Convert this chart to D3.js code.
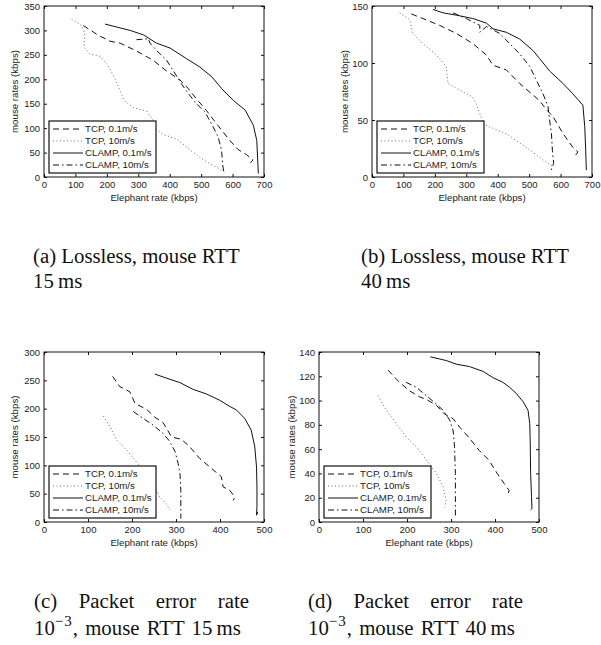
<!DOCTYPE html>
<html>
<head>
<meta charset="utf-8">
<script src="https://cdn.jsdelivr.net/npm/d3@7"></script>
<style>
body { margin: 0; background: #fff; }
svg text { font-family: Arial, "Liberation Sans", sans-serif; fill: #222; }
.cap { font-family: "Liberation Serif", "Times New Roman", serif; font-size: 20.8px; fill: #111; }
</style>
</head>
<body>
<div id="chart"></div>
<script>
const seriesNames = ["TCP, 0.1m/s", "TCP, 10m/s", "CLAMP, 0.1m/s", "CLAMP, 10m/s"];

// (a) lossless, mouse RTT 15 ms : [elephant kbps, mouse kbps]
const tcpFastA = [[125,310],[173,290],[210,278],[242,274],[294,258],[347,239],[390,217],[432,199],[459,181],[485,160],[517,136],[549,109],[591,75],[618,56],[644,46],[665,35],[657,29]];
const tcpSlowA = [[88,323],[120,310],[130,293],[127,266],[146,252],[178,247],[204,228],[226,201],[242,177],[254,157],[284,142],[326,135],[345,119],[353,99],[379,87],[422,78],[464,56],[506,35],[549,20],[580,8]];
const clampFastA = [[194,313],[274,300],[316,291],[358,274],[401,264],[454,242],[496,225],[534,205],[565,181],[602,157],[640,137],[666,106],[677,75],[682,7]];
const clampSlowA = [[294,281],[332,283],[337,274],[358,259],[390,239],[411,218],[437,191],[459,171],[485,150],[512,133],[533,109],[554,82],[565,55],[568,27],[572,10]];

// (b) lossless, mouse RTT 40 ms
const tcpFastB = [[125,143],[162,139],[215,133],[268,126],[321,117],[364,107],[385,98],[427,94],[470,82],[512,72],[533,67],[555,59],[576,53],[608,38],[639,26],[655,22],[645,18]];
const tcpSlowB = [[88,144],[120,138],[130,126],[162,117],[205,107],[236,97],[242,82],[268,78],[321,70],[332,64],[343,56],[353,47],[374,44],[427,38],[491,26],[544,15],[576,9]];
const clampFastB = [[194,147],[226,144],[268,142],[321,139],[364,135],[385,130],[427,127],[470,121],[512,111],[533,104],[565,93],[608,82],[639,73],[671,63],[677,44],[680,23],[682,6]];
const clampSlowB = [[258,144],[300,139],[343,133],[343,127],[364,132],[406,126],[438,117],[470,108],[502,97],[523,85],[544,73],[560,62],[565,50],[571,38],[574,23],[578,12],[570,6]];

// (c) packet error rate 1e-3, mouse RTT 15 ms
const tcpFastC = [[156,257],[172,239],[195,230],[207,209],[233,199],[252,185],[271,175],[290,150],[312,146],[331,133],[354,112],[377,97],[403,80],[407,62],[422,56],[434,44],[430,38]];
const tcpSlowC = [[135,187],[150,168],[165,145],[188,127],[210,106],[233,86],[248,68],[263,44],[278,32],[286,21]];
const clampFastC = [[252,261],[278,254],[309,246],[339,234],[369,226],[399,215],[422,204],[437,198],[456,183],[471,162],[479,133],[483,97],[484,62],[484,27],[483,12],[486,18]];
const clampSlowC = [[203,195],[225,183],[248,171],[271,156],[286,142],[298,124],[305,103],[309,86],[311,56],[311,27],[311,6]];

// (d) packet error rate 1e-3, mouse RTT 40 ms
const tcpFastD = [[157,125],[183,115],[206,108],[229,103],[244,101],[267,96],[285,89],[305,85],[320,78],[342,69],[364,59],[386,51],[405,40],[420,32],[432,26],[430,23]];
const tcpSlowD = [[134,104],[153,92],[176,81],[198,70],[221,62],[244,51],[267,40],[282,29],[289,18],[286,12]];
const clampFastD = [[253,136],[289,133],[312,130],[342,128],[373,124],[395,119],[418,115],[433,111],[448,106],[464,99],[475,92],[479,81],[480,67],[481,40],[483,21],[484,11],[481,10]];
const clampSlowD = [[198,115],[221,111],[244,104],[267,97],[282,92],[297,84],[305,75],[308,62],[310,40],[310,21],[310,5]];

const xTicksWide = [0, 100, 200, 300, 400, 500, 600, 700];
const xTicksNarrow = [0, 100, 200, 300, 400, 500];
const yTicksA = [0, 50, 100, 150, 200, 250, 300, 350];
const yTicksB = [0, 50, 100, 150];
const yTicksC = [0, 50, 100, 150, 200, 250, 300];
const yTicksD = [0, 20, 40, 60, 80, 100, 120, 140];

const styles = [
  { dash: "6,4", color: "#111", w: 1 },
  { dash: "1,2.5", color: "#666", w: 1 },
  { dash: null, color: "#111", w: 1 },
  { dash: "6,3,1.5,3", color: "#111", w: 1 }
];

const panels = [
  { left: 44, top: 6, w: 220, h: 171, xTicks: xTicksWide, yTicks: yTicksA, ylabX: 15,
    data: [tcpFastA, tcpSlowA, clampFastA, clampSlowA],
    cap: { x: 33, y: 263, lines: ["(a) Lossless, mouse RTT", "15\u2009ms"], justify: false } },
  { left: 372, top: 6, w: 220, h: 171, xTicks: xTicksWide, yTicks: yTicksB, ylabX: 345,
    data: [tcpFastB, tcpSlowB, clampFastB, clampSlowB],
    cap: { x: 361, y: 263, lines: ["(b) Lossless, mouse RTT", "40\u2009ms"], justify: false } },
  { left: 44, top: 352, w: 220, h: 170, xTicks: xTicksNarrow, yTicks: yTicksC, ylabX: 15,
    data: [tcpFastC, tcpSlowC, clampFastC, clampSlowC],
    cap: { x: 34, y: 607.5, lines: ["(c) Packet error rate", "15\u2009ms"], justify: true } },
  { left: 319, top: 352, w: 220, h: 170, xTicks: xTicksNarrow, yTicks: yTicksD, ylabX: 292,
    data: [tcpFastD, tcpSlowD, clampFastD, clampSlowD],
    cap: { x: 308, y: 607.5, lines: ["(d) Packet error rate", "40\u2009ms"], justify: true } }
];

const svg = d3.select("#chart").append("svg")
  .attr("width", 601)
  .attr("height", 645);

panels.forEach(p => {
  const x = d3.scaleLinear()
    .domain([0, d3.max(p.xTicks)])
    .range([0, p.w]);
  const y = d3.scaleLinear()
    .domain([0, d3.max(p.yTicks)])
    .range([p.h, 0]);

  const g = svg.append("g")
    .attr("transform", `translate(${p.left},${p.top})`);

  // ticks on all 4 sides, pointing inward
  const ax = [
    g.append("g").attr("transform", `translate(0,${p.h})`)
      .call(d3.axisBottom(x).tickValues(p.xTicks).tickSize(-3).tickPadding(4.5)),
    g.append("g")
      .call(d3.axisLeft(y).tickValues(p.yTicks).tickSize(-3).tickPadding(4)),
    g.append("g")
      .call(d3.axisTop(x).tickValues(p.xTicks).tickSize(-3).tickFormat("")),
    g.append("g").attr("transform", `translate(${p.w},0)`)
      .call(d3.axisRight(y).tickValues(p.yTicks).tickSize(-3).tickFormat(""))
  ];
  ax.forEach(a => {
    a.select(".domain").remove();
    a.selectAll(".tick line").attr("stroke", "#111");
    a.selectAll(".tick text").attr("font-size", "9.5px").attr("fill", "#222");
  });

  const line = d3.line()
    .x(d => x(d[0]))
    .y(d => y(d[1]));

  p.data.forEach((s, i) => {
    g.append("path")
      .datum(s)
      .attr("fill", "none")
      .attr("stroke", styles[i].color)
      .attr("stroke-width", styles[i].w)
      .attr("stroke-dasharray", styles[i].dash)
      .attr("d", line);
  });

  g.append("rect")
    .attr("width", p.w)
    .attr("height", p.h)
    .attr("fill", "none")
    .attr("stroke", "#111")
    .attr("stroke-width", 1);

  g.append("text")
    .attr("x", p.w / 2)
    .attr("y", p.h + 23.5)
    .attr("text-anchor", "middle")
    .attr("font-size", "9.7px")
    .text("Elephant rate (kbps)");

  svg.append("text")
    .attr("transform", `translate(${p.ylabX},${p.top + p.h / 2}) rotate(-90)`)
    .attr("text-anchor", "middle")
    .attr("dy", "0.35em")
    .attr("font-size", "9.7px")
    .text("mouse rates (kbps)");

  // legend, lower left
  const lg = g.append("g")
    .attr("transform", `translate(5,${p.h - 56})`);
  lg.append("rect")
    .attr("width", 107)
    .attr("height", 52)
    .attr("fill", "#fff")
    .attr("stroke", "#111")
    .attr("stroke-width", 1.2);
  seriesNames.forEach((n, i) => {
    const yy = 8 + i * 12;
    lg.append("line")
      .attr("x1", 4).attr("x2", 34)
      .attr("y1", yy).attr("y2", yy)
      .attr("stroke", styles[i].color)
      .attr("stroke-width", styles[i].w)
      .attr("stroke-dasharray", styles[i].dash);
    lg.append("text")
      .attr("x", 36)
      .attr("y", yy)
      .attr("dy", "0.35em")
      .attr("font-size", "9.7px")
      .text(n);
  });

  // caption
  const c = p.cap;
  if (!c.justify) {
    c.lines.forEach((t, i) => {
      svg.append("text").attr("class", "cap")
        .attr("x", c.x).attr("y", c.y + i * 25)
        .text(t);
    });
  } else {
    const words = c.lines[0].split(" ");
    const ws = words.map(wd => svg.append("text").attr("class", "cap")
      .attr("y", c.y).text(wd));
    const lens = ws.map(t => t.node().getComputedTextLength());
    const gap = (215 - d3.sum(lens)) / (words.length - 1);
    let cx = c.x;
    ws.forEach((t, i) => {
      t.attr("x", cx);
      cx += lens[i] + gap;
    });
    const t2 = svg.append("text").attr("class", "cap")
      .attr("x", c.x).attr("y", c.y + 27)
      .attr("word-spacing", "2px");
    t2.append("tspan").text("10");
    t2.append("tspan").attr("dy", -9).attr("font-size", "15px")
      .attr("letter-spacing", "1px").text("\u22123");
    t2.append("tspan").attr("dy", 9).text(", mouse RTT " + c.lines[1]);
  }
});
</script>
</body>
</html>
